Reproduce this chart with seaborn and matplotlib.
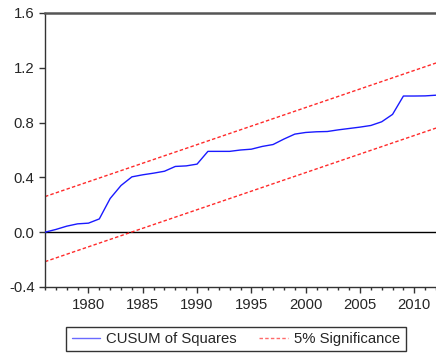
import matplotlib
matplotlib.use("Agg")
import matplotlib.pyplot as plt
import seaborn as sns
import pandas as pd
from matplotlib.ticker import MultipleLocator, FormatStrFormatter

# CUSUM of squares by year
years = list(range(1976, 2013))
cusum_sq = [0.0, 0.02, 0.044, 0.061, 0.066, 0.097, 0.246, 0.341, 0.404, 0.419,
            0.431, 0.445, 0.480, 0.484, 0.497, 0.590, 0.590, 0.590, 0.600, 0.606,
            0.626, 0.640, 0.680, 0.716, 0.728, 0.733, 0.735, 0.747, 0.757, 0.767,
            0.779, 0.806, 0.860, 0.994, 0.994, 0.995, 1.0]

# 5% significance bounds (straight lines between the sample ends)
bound_years = [1976, 2012]
upper_bound = [0.260, 1.235]
lower_bound = [-0.215, 0.760]

y_ticks = [-0.4, 0.0, 0.4, 0.8, 1.2, 1.6]
x_ticks = [1980, 1985, 1990, 1995, 2000, 2005, 2010]

FS = 10.7
DASH = (0, (2.5, 1.6))

sns.set_style("white")
plt.rcParams["font.family"] = ["Liberation Sans", "DejaVu Sans"]
plt.rcParams["axes.unicode_minus"] = False

df = pd.DataFrame({"year": years, "value": cusum_sq})
bounds = pd.DataFrame({"year": bound_years, "upper": upper_bound, "lower": lower_bound})

fig = plt.figure(figsize=(4.36, 3.54), dpi=100)
ax = fig.add_axes([45 / 436, 1 - 287 / 354, 1 - 45 / 436, (287 - 13) / 354])

ax.axhline(0, color="black", lw=1.0, zorder=1)
sns.lineplot(data=df, x="year", y="value", ax=ax, color="#1a1aff", lw=1.0,
             label="CUSUM of Squares", zorder=3)
sns.lineplot(data=bounds, x="year", y="upper", ax=ax, color="#ff2a2a", lw=1.0,
             label="5% Significance", zorder=2)
sns.lineplot(data=bounds, x="year", y="lower", ax=ax, color="#ff2a2a", lw=1.0,
             zorder=2)
for line in ax.lines[2:]:
    line.set_linestyle(DASH)

ax.set_xlim(1976, 2012)
ax.set_ylim(-0.4, 1.6)
ax.set_yticks(y_ticks)
ax.yaxis.set_major_formatter(FormatStrFormatter("%.1f"))
ax.set_xticks(x_ticks)
ax.xaxis.set_minor_locator(MultipleLocator(1))
ax.set_xlabel("")
ax.set_ylabel("")

ax.tick_params(axis="y", direction="out", length=4.5, width=1, color="#333333",
               labelsize=FS, pad=3, left=True)
ax.tick_params(axis="x", which="major", direction="out", length=4, width=1,
               color="#333333", labelsize=FS, pad=4, bottom=True)
ax.tick_params(axis="x", which="minor", direction="out", length=2.5, width=1,
               color="#333333", bottom=True)

ax.spines["top"].set_color("#555555")
ax.spines["top"].set_linewidth(1.8)
ax.spines["left"].set_color("#333333")
ax.spines["left"].set_linewidth(1.0)
ax.spines["bottom"].set_color("#333333")
ax.spines["bottom"].set_linewidth(1.0)
ax.spines["right"].set_visible(False)

handles, labels = ax.get_legend_handles_labels()
ax.get_legend().remove()
leg = fig.legend(handles, labels, loc="center", ncol=2,
                 bbox_to_anchor=(236 / 436, 1 - 339 / 354), frameon=True,
                 fancybox=False, edgecolor="black", fontsize=FS,
                 handlelength=1.9, columnspacing=1.5, borderpad=0.35,
                 handletextpad=0.45, borderaxespad=0)
leg.get_frame().set_linewidth(1.0)
for lh in leg.get_lines():
    lh.set_linewidth(1.0)
leg.get_lines()[0].set_color("#6a6aff")
leg.get_lines()[1].set_color("#ff6a6a")
leg.get_lines()[1].set_linestyle(DASH)

fig.savefig("out.png", dpi=100)
